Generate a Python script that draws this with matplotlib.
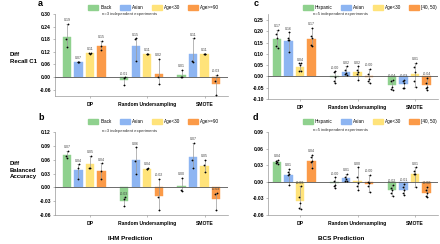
import matplotlib
matplotlib.use('Agg')
import matplotlib.pyplot as plt
import numpy as np
from matplotlib.patches import Patch
from matplotlib.ticker import FormatStrFormatter

plt.rcParams['font.family'] = ['Liberation Sans', 'DejaVu Sans']

# ---------------- data ----------------
methods = ['DP', 'Random Undersampling', 'SMOTE']
ihm_groups = ['Black', 'Asian', 'Age<30', 'Age>=90']
bcs_groups = ['Hispanic', 'Asian', 'Age<30', '[40, 50)']

# IHM - Diff Recall C1 (n=3), per group: [DP, RU, SMOTE] experiment values
ihm_recall_black = [[0.252, 0.180, 0.145], [-0.001, -0.004, -0.038], [0.033, 0.000, 0.000]]
ihm_recall_asian = [[0.074, 0.073, 0.072], [0.184, 0.180, 0.075], [0.184, 0.075, 0.073]]
ihm_recall_age30 = [[0.114, 0.113, 0.112], [0.112, 0.111, 0.110], [0.112, 0.111, 0.110]]
ihm_recall_age90 = [[0.172, 0.148, 0.128], [0.086, 0.000, -0.035], [0.012, -0.020, -0.085]]

# IHM - Diff Balanced Accuracy (n=3)
ihm_bacc_black = [[0.079, 0.068, 0.064], [-0.022, -0.026, -0.041], [0.021, -0.006, -0.008]]
ihm_bacc_asian = [[0.050, 0.041, 0.019], [0.087, 0.058, 0.030], [0.097, 0.060, 0.041]]
ihm_bacc_age30 = [[0.069, 0.043, 0.042], [0.042, 0.040, 0.039], [0.060, 0.048, 0.034]]
ihm_bacc_age90 = [[0.052, 0.036, 0.019], [0.018, -0.022, -0.050], [-0.012, -0.015, -0.050]]

# BCS - Diff Recall C1 (n=5)
bcs_recall_hispanic = [[0.206, 0.190, 0.170, 0.135, 0.128], [0.022, 0.018, -0.002, -0.020, -0.028],
                       [-0.015, -0.020, -0.045, -0.055, -0.060]]
bcs_recall_asian = [[0.195, 0.170, 0.160, 0.160, 0.110], [0.045, 0.030, 0.015, 0.010, 0.005],
                    [-0.015, -0.020, -0.030, -0.050, -0.052]]
bcs_recall_age30 = [[0.058, 0.058, 0.050, 0.025, 0.022], [0.045, 0.030, 0.020, 0.010, -0.015],
                    [0.060, 0.040, 0.020, -0.020, -0.047]]
bcs_recall_age4050 = [[0.215, 0.180, 0.170, 0.140, 0.135], [0.035, 0.010, -0.010, -0.020, -0.030],
                      [-0.005, -0.030, -0.045, -0.050, -0.062]]

# BCS - Diff Balanced Accuracy (n=5)
bcs_bacc_hispanic = [[0.040, 0.037, 0.035, 0.034, 0.033], [0.008, 0.002, -0.005, -0.008, -0.012],
                     [-0.005, -0.012, -0.015, -0.020, -0.025]]
bcs_bacc_asian = [[0.024, 0.018, 0.014, 0.013, -0.006], [0.015, 0.008, 0.005, 0.002, 0.001],
                  [-0.004, -0.010, -0.014, -0.020, -0.024]]
bcs_bacc_age30 = [[-0.008, -0.028, -0.038, -0.047, -0.050], [0.026, 0.008, -0.002, -0.008, -0.014],
                  [0.026, 0.020, 0.015, 0.014, -0.009]]
bcs_bacc_age4050 = [[0.049, 0.045, 0.038, 0.035, 0.025], [0.012, 0.000, -0.003, -0.008, -0.018],
                    [-0.009, -0.015, -0.020, -0.025, -0.028]]

yticks_a = [-0.06, 0.00, 0.06, 0.12, 0.18, 0.24, 0.30]
yticks_b = [-0.06, -0.03, 0.00, 0.03, 0.06, 0.09, 0.12]
yticks_c = [-0.10, -0.05, 0.00, 0.05, 0.10, 0.15, 0.20, 0.25]
yticks_d = [-0.06, -0.03, 0.00, 0.03, 0.06, 0.09]

# ---------------- style ----------------
colors = ['#8fd18e', '#8db5f2', '#ffe37a', '#fb9a48']
W, H = 440, 244
fig = plt.figure(figsize=(W / 100, H / 100), dpi=100)


def px_axes(l, t, r, b):
    return fig.add_axes([l / W, 1 - b / H, (r - l) / W, (b - t) / H])


jit3 = [0.012, -0.010, 0.0]
jit5 = [0.014, -0.010, 0.004, -0.014, 0.010]
offs = [-0.4, -0.2, 0.0, 0.2]


def draw(ax, data, groups, ylim, yticks, xlim, note, leg_right, leg_y, note_x, note_y):
    x = np.arange(len(methods))
    for gi, pts in enumerate(data):
        means = np.array([np.mean(p) for p in pts])
        xs = x + offs[gi]
        ax.bar(xs, means, width=0.145, color=colors[gi], edgecolor=colors[gi], linewidth=0.3, zorder=2)
        lo = [m - min(p) for m, p in zip(means, pts)]
        hi = [max(p) - m for m, p in zip(means, pts)]
        ax.errorbar(xs, means, yerr=[lo, hi], fmt='none', ecolor='#9a9a9a', elinewidth=0.5,
                    capsize=1.0, capthick=0.5, zorder=3)
        for xi, p, m in zip(xs, pts, means):
            jit = jit3 if len(p) == 3 else jit5
            ax.plot(xi + np.array(jit), p, 'o', color='black', ms=1.3, mew=0, zorder=4)
            ax.annotate(f'{m:.2f}', (xi, max(p)), xytext=(0, 1.2), textcoords='offset points',
                        ha='center', va='bottom', fontsize=2.6, color='#444444')
    ax.axhline(0, color='#555555', lw=0.6, zorder=3)
    ax.set_xlim(*xlim)
    ax.set_ylim(*ylim)
    ax.set_yticks(yticks)
    ax.yaxis.set_major_formatter(FormatStrFormatter('%.2f'))
    ax.set_xticks(x)
    ax.set_xticklabels(methods)
    for s in ['top', 'right']:
        ax.spines[s].set_visible(False)
    for s in ['left', 'bottom']:
        ax.spines[s].set_color('#999999')
        ax.spines[s].set_linewidth(0.5)
    ax.tick_params(axis='both', labelsize=3.6, length=1.5, width=0.4, color='#888888', pad=1.5)
    ax.tick_params(axis='x', pad=2.5)
    for lbl in ax.get_xticklabels() + ax.get_yticklabels():
        lbl.set_fontweight('bold')
    handles = [Patch(facecolor=c, edgecolor=c) for c in colors]
    ax.legend(handles, groups, ncol=4, loc='center right',
              bbox_to_anchor=(leg_right / W, 1 - leg_y / H), bbox_transform=fig.transFigure,
              frameon=False, fontsize=3.3, handlelength=2.2, handleheight=1.1,
              handletextpad=0.4, columnspacing=1.8, borderpad=0, borderaxespad=0)
    fig.text(note_x / W, 1 - note_y / H, note, fontsize=3.1, va='center', ha='left', color='#333333')


ax_a = px_axes(55, 14, 228, 96)
draw(ax_a, [ihm_recall_black, ihm_recall_asian, ihm_recall_age30, ihm_recall_age90], ihm_groups,
     (-0.09, 0.30), yticks_a, (-0.61, 2.41), 'n=3 independent experiments', 219, 7.5, 102, 14)

ax_b = px_axes(55, 132, 228, 215)
draw(ax_b, [ihm_bacc_black, ihm_bacc_asian, ihm_bacc_age30, ihm_bacc_age90], ihm_groups,
     (-0.06, 0.12), yticks_b, (-0.61, 2.41), 'n=3 independent experiments', 219, 121.5, 102, 131)

ax_c = px_axes(268, 14, 438, 99)
draw(ax_c, [bcs_recall_hispanic, bcs_recall_asian, bcs_recall_age30, bcs_recall_age4050], bcs_groups,
     (-0.10, 0.2766), yticks_c, (-0.557, 2.40), 'n=5 independent experiments', 437, 7.5, 313, 14)

ax_d = px_axes(268, 132, 438, 215)
draw(ax_d, [bcs_bacc_hispanic, bcs_bacc_asian, bcs_bacc_age30, bcs_bacc_age4050], bcs_groups,
     (-0.06, 0.09), yticks_d, (-0.557, 2.40), 'n=5 independent experiments', 437, 121.5, 313, 130)

# panel letters
for letter, (px, py) in zip('abcd', [(38, 4), (38, 118), (254, 4), (253, 118)]):
    fig.text(px / W, 1 - py / H, letter, fontsize=6.5, fontweight='bold', va='center', ha='left')

# y labels
fig.text(10 / W, 1 - 58 / H, 'Diff\nRecall C1', fontsize=4.3, fontweight='bold', va='center',
         ha='left', linespacing=1.6)
fig.text(10 / W, 1 - 170 / H, 'Diff\nBalanced\nAccuracy', fontsize=4.3, fontweight='bold',
         va='center', ha='left', linespacing=1.4)

# bottom titles
fig.text(130 / W, 1 - 239 / H, 'IHM Prediction', fontsize=4.6, fontweight='bold', ha='center', va='center')
fig.text(341 / W, 1 - 239 / H, 'BCS Prediction', fontsize=4.6, fontweight='bold', ha='center', va='center')

fig.savefig('out.png', dpi=100)
